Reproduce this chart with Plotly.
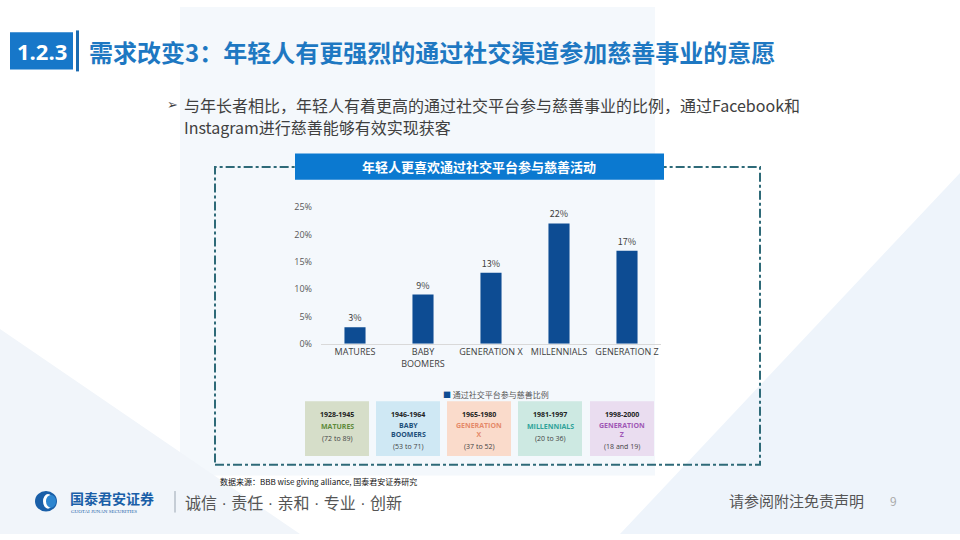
import plotly.graph_objects as go

# ---------------- data ----------------
categories = ["MATURES", "BABY<br>BOOMERS", "GENERATION X", "MILLENNIALS", "GENERATION Z"]
values = [0.03, 0.09, 0.13, 0.22, 0.17]
value_labels = ["3%", "9%", "13%", "22%", "17%"]
series_name = "通过社交平台参与慈善比例"
y_ticks = [0, 0.05, 0.10, 0.15, 0.20, 0.25]
y_tick_labels = ["0%", "5%", "10%", "15%", "20%", "25%"]

gen_years = ["1928-1945", "1946-1964", "1965-1980", "1981-1997", "1998-2000"]
gen_names = ["MATURES", "BABY<br>BOOMERS", "GENERATION<br>X", "MILLENNIALS", "GENERATION<br>Z"]
gen_ages = ["(72 to 89)", "(53 to 71)", "(37 to 52)", "(20 to 36)", "(18 and 19)"]

title_num = "1.2.3"
title_text = "需求改变3：年轻人有更强烈的通过社交渠道参加慈善事业的意愿"
bullet_line1 = "与年长者相比，年轻人有着更高的通过社交平台参与慈善事业的比例，通过Facebook和"
bullet_line2 = "Instagram进行慈善能够有效实现获客"
chart_title = "年轻人更喜欢通过社交平台参与慈善活动"
source_text = "数据来源：BBB wise giving alliance, 国泰君安证券研究"
footer_motto_parts = ["诚信", "责任", "亲和", "专业", "创新"]
footer_disclaimer = "请参阅附注免责声明"
page_no = "9"

# ---------------- styles ----------------
W, H = 960, 540
FONT = "Noto Sans CJK SC"
BAR_COLOR = "#0D4C93"
box_fill = ["#D6DEC9", "#CFE8F4", "#FADBCB", "#CDE9E2", "#EADDF0"]
box_name_color = ["#5E8A3A", "#1D4F7A", "#E58A6A", "#2FA39A", "#A057B5"]


def px(x):
    return x / W


def py(y):
    return 1 - y / H


fig = go.Figure()
fig.add_trace(go.Bar(
    x=categories, y=values, name=series_name,
    marker=dict(color=BAR_COLOR, line=dict(width=0)),
    text=value_labels, textposition="outside",
    textfont=dict(size=9, color="#404040", family=FONT),
    width=0.31, cliponaxis=False, showlegend=False,
))

shapes = []
annotations = []

# background decoration
shapes.append(dict(type="path", xref="paper", yref="paper",
                   path=f"M {px(180)} {py(0)} L {px(655)} {py(0)} L {px(655)} {py(480)} L {px(180)} {py(480)} Z",
                   fillcolor="#F4F8FC", line=dict(width=0), layer="below"))
shapes.append(dict(type="path", xref="paper", yref="paper",
                   path=f"M {px(960)} {py(170)} L {px(960)} {py(540)} L {px(620)} {py(540)} Z",
                   fillcolor="#EEF4FB", line=dict(width=0), layer="below"))
shapes.append(dict(type="path", xref="paper", yref="paper",
                   path=f"M {px(0)} {py(330)} L {px(300)} {py(540)} L {px(0)} {py(540)} Z",
                   fillcolor="#F1F5FA", line=dict(width=0), layer="below"))

# title block
shapes.append(dict(type="rect", xref="paper", yref="paper", x0=px(10), x1=px(73), y0=py(64), y1=py(26),
                   fillcolor="#1777C9", line=dict(width=0)))
shapes.append(dict(type="rect", xref="paper", yref="paper", x0=px(76), x1=px(79), y0=py(66), y1=py(24),
                   fillcolor="#1B6BB0", line=dict(width=0)))
annotations.append(dict(x=px(41.5), y=py(45), xref="paper", yref="paper", text=f"<b>{title_num}</b>",
                        showarrow=False, font=dict(size=22, color="white", family="Open Sans"),
                        xanchor="center", yanchor="middle"))
annotations.append(dict(x=px(87), y=py(46), xref="paper", yref="paper", text=f"<b>{title_text}</b>",
                        showarrow=False, font=dict(size=24, color="#1E78C2", family=FONT),
                        xanchor="left", yanchor="middle"))

# bullet text
annotations.append(dict(x=px(165), y=py(100), xref="paper", yref="paper", text="➢",
                        showarrow=False, font=dict(size=13, color="#404040", family="DejaVu Sans"),
                        xanchor="left", yanchor="middle"))
annotations.append(dict(x=px(182), y=py(100), xref="paper", yref="paper", text=bullet_line1,
                        showarrow=False, font=dict(size=16, color="#404040", family=FONT),
                        xanchor="left", yanchor="middle"))
annotations.append(dict(x=px(182), y=py(123), xref="paper", yref="paper", text=bullet_line2,
                        showarrow=False, font=dict(size=16, color="#404040", family=FONT),
                        xanchor="left", yanchor="middle"))

# chart frame (dash-dot)
shapes.append(dict(type="rect", xref="paper", yref="paper", x0=px(215), x1=px(760), y0=py(469), y1=py(164),
                   fillcolor="rgba(0,0,0,0)", line=dict(color="#2E6A78", width=2, dash="dashdot")))
shapes.append(dict(type="rect", xref="paper", yref="paper", x0=px(295), x1=px(664), y0=py(177), y1=py(150),
                   fillcolor="#0B79D0", line=dict(width=0)))
annotations.append(dict(x=px(479), y=py(163.5), xref="paper", yref="paper", text=f"<b>{chart_title}</b>",
                        showarrow=False, font=dict(size=13, color="white", family=FONT),
                        xanchor="center", yanchor="middle"))

# legend (as text with a coloured square)
annotations.append(dict(x=px(496), y=py(397), xref="paper", yref="paper",
                        text=f"<span style='color:{BAR_COLOR}'>■</span> {series_name}",
                        showarrow=False, font=dict(size=8, color="#555555", family=FONT),
                        xanchor="center", yanchor="middle"))

# generation boxes
box_x0 = [305, 376, 447, 518, 590]
box_w = 64
for i in range(len(gen_years)):
    x0 = box_x0[i]
    shapes.append(dict(type="rect", xref="paper", yref="paper", x0=px(x0), x1=px(x0 + box_w),
                       y0=py(460), y1=py(404), fillcolor=box_fill[i], line=dict(width=0)))
    cx = px(x0 + box_w / 2)
    annotations.append(dict(x=cx, y=py(418), xref="paper", yref="paper", text=f"<b>{gen_years[i]}</b>",
                            showarrow=False, font=dict(size=7, color="#222222", family="Open Sans"),
                            xanchor="center", yanchor="middle"))
    two = "<br>" in gen_names[i]
    annotations.append(dict(x=cx, y=py(433 if two else 430), xref="paper", yref="paper",
                            text=f"<b>{gen_names[i]}</b>", showarrow=False,
                            font=dict(size=7, color=box_name_color[i], family="Open Sans"),
                            xanchor="center", yanchor="middle"))
    annotations.append(dict(x=cx, y=py(450 if two else 442), xref="paper", yref="paper", text=gen_ages[i],
                            showarrow=False, font=dict(size=7, color="#444444", family="Open Sans"),
                            xanchor="center", yanchor="middle"))

# source
annotations.append(dict(x=px(218), y=py(486), xref="paper", yref="paper", text=source_text,
                        showarrow=False, font=dict(size=8, color="#111111", family=FONT),
                        xanchor="left", yanchor="middle"))

# footer
shapes.append(dict(type="circle", xref="paper", yref="paper", x0=px(35), x1=px(57), y0=py(517), y1=py(496),
                   fillcolor="#1A5FA8", line=dict(width=0)))
shapes.append(dict(type="circle", xref="paper", yref="paper", x0=px(43), x1=px(53), y0=py(514), y1=py(499),
                   fillcolor="#FFFFFF", line=dict(width=0)))
shapes.append(dict(type="circle", xref="paper", yref="paper", x0=px(46), x1=px(56), y0=py(513), y1=py(500),
                   fillcolor="#2E86D0", line=dict(width=0)))
annotations.append(dict(x=px(68), y=py(503), xref="paper", yref="paper", text="<b>国泰君安证券</b>",
                        showarrow=False, font=dict(size=14, color="#1A5FA8", family=FONT),
                        xanchor="left", yanchor="middle"))
annotations.append(dict(x=px(69), y=py(517), xref="paper", yref="paper", text="GUOTAI JUNAN SECURITIES",
                        showarrow=False, font=dict(size=5, color="#1A5FA8", family="Liberation Serif"),
                        xanchor="left", yanchor="middle"))
shapes.append(dict(type="line", xref="paper", yref="paper", x0=px(175), x1=px(175), y0=py(518), y1=py(496),
                   line=dict(color="#9AA5B1", width=1)))
motto_html = "<span style='font-family:Liberation Sans'> · </span>".join(footer_motto_parts)
annotations.append(dict(x=px(183), y=py(507), xref="paper", yref="paper", text=motto_html,
                        showarrow=False, font=dict(size=16, color="#555555", family=FONT),
                        xanchor="left", yanchor="middle"))
annotations.append(dict(x=px(866), y=py(506), xref="paper", yref="paper", text=footer_disclaimer,
                        showarrow=False, font=dict(size=15, color="#555555", family=FONT),
                        xanchor="right", yanchor="middle"))
annotations.append(dict(x=px(893), y=py(506), xref="paper", yref="paper", text=page_no,
                        showarrow=False, font=dict(size=12, color="#AAAAAA", family=FONT),
                        xanchor="center", yanchor="middle"))

fig.update_layout(
    width=W, height=H,
    margin=dict(l=0, r=0, t=0, b=0),
    paper_bgcolor="#FFFFFF", plot_bgcolor="rgba(0,0,0,0)",
    shapes=shapes, annotations=annotations,
    showlegend=False,
    bargap=0.69,
    xaxis=dict(domain=[px(321), px(661)], showgrid=False, showline=True, linecolor="#D9D9D9",
               linewidth=1, ticks="", tickfont=dict(size=9, color="#404040", family="Open Sans"),
               fixedrange=True),
    yaxis=dict(domain=[py(345), py(205)], range=[0, 0.25], tickvals=y_ticks, ticktext=y_tick_labels,
               showgrid=False, showline=False, zeroline=False, ticks="",
               tickfont=dict(size=9, color="#595959", family="Open Sans"), ticklabelstandoff=8,
               fixedrange=True),
    font=dict(family=FONT),
)

fig.write_html("out.html")
